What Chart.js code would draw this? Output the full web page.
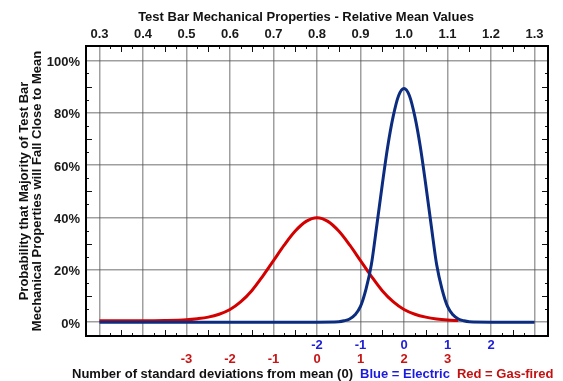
<!DOCTYPE html>
<html><head><meta charset="utf-8">
<script src="https://cdn.jsdelivr.net/npm/chart.js@4/dist/chart.umd.min.js"></script>
<style>html,body{margin:0;padding:0;background:#fff}#wrap{width:563px;height:381px}</style>
</head><body><div id="wrap"><canvas id="c" width="563" height="381"></canvas></div>
<script>
// ---- data ----
const topTicks = [0.3, 0.4, 0.5, 0.6, 0.7, 0.8, 0.9, 1.0, 1.1, 1.2, 1.3];
const yTicks = [0, 20, 40, 60, 80, 100];
const blueSdPos = [0.8, 0.9, 1.0, 1.1, 1.2];
const blueSdLabels = ['-2', '-1', '0', '1', '2'];
const redSdPos = [0.5, 0.6, 0.7, 0.8, 0.9, 1.0, 1.1];
const redSdLabels = ['-3', '-2', '-1', '0', '1', '2', '3'];

const blueX = [0.3, 0.5, 0.7, 0.8, 0.85, 0.8625, 0.875, 0.8875, 0.9, 0.9125, 0.925, 0.9375, 0.95, 0.9625, 0.975, 0.9875, 1.0,
               1.0125, 1.025, 1.0375, 1.05, 1.0625, 1.075, 1.0875, 1.1, 1.1125, 1.125, 1.1375, 1.15, 1.2, 1.3];
const blueY = [0, 0, 0, 0, 0.15, 0.5, 1.2, 2.8, 6, 12.5, 22, 37, 52.5, 67, 78.5, 86.5, 89.3,
               86.5, 78.5, 67, 52.5, 37, 22, 12.5, 6, 2.8, 1.2, 0.5, 0.15, 0, 0];

const redX = [0.3, 0.35, 0.4, 0.45, 0.5, 0.525, 0.55, 0.575, 0.6, 0.625, 0.65, 0.675, 0.7, 0.725, 0.75, 0.775, 0.8,
              0.825, 0.85, 0.875, 0.9, 0.925, 0.95, 0.975, 1.0, 1.025, 1.05, 1.075, 1.1, 1.125];
const redY = [0.5, 0.5, 0.5, 0.6, 0.9, 1.3, 1.9, 3.0, 4.8, 7.8, 12, 17.5, 23.5, 29.5, 34.8, 38.5, 39.9,
              38.5, 34.8, 29.5, 23.5, 17.5, 12, 7.8, 4.8, 3.0, 1.9, 1.2, 0.8, 0.6];

const topTitle = 'Test Bar Mechanical Properties - Relative Mean Values';
const yTitle = ['Probability that Majority of Test Bar', 'Mechanical Properties will Fall Close to Mean'];
const bottomTitle = [
  {t: 'Number of standard deviations from mean (0)', c: '#111111'},
  {t: 'Blue = Electric', c: '#1a1ae0'},
  {t: 'Red = Gas-fired', c: '#c41010'}
];

// ---- chart ----
const FONT = '"Liberation Sans", Arial, Helvetica, sans-serif';
Chart.defaults.font.family = FONT;
const XMIN = 0.269, XMAX = 1.331, YMIN = -5.3, YMAX = 105.5;
const gridColor = 'rgba(80,80,80,0.55)';
const bold13 = {size: 13, weight: 'bold', family: FONT};

const decor = {
  id: 'decor',
  afterDraw(chart) {
    const {ctx, chartArea: a, scales} = chart;
    const sx = scales.x, sy = scales.y;
    ctx.save();
    // minor inner ticks
    ctx.strokeStyle = '#111';
    ctx.lineWidth = 1;
    ctx.beginPath();
    for (let k = 0; k < topTicks.length - 1; k++) {
      for (let q = 1; q <= 3; q++) {
        const v = topTicks[k] + q * 0.025;
        const px = Math.round(sx.getPixelForValue(v)) + 0.5;
        const len = q === 2 ? 6 : 3;
        ctx.moveTo(px, a.top); ctx.lineTo(px, a.top + len);
        ctx.moveTo(px, a.bottom); ctx.lineTo(px, a.bottom - len);
      }
    }
    for (let k = 0; k < yTicks.length - 1; k++) {
      for (let q = 1; q <= 3; q++) {
        const v = yTicks[k] + q * 5;
        const py = Math.round(sy.getPixelForValue(v)) + 0.5;
        const len = q === 2 ? 6 : 3;
        ctx.moveTo(a.left, py); ctx.lineTo(a.left + len, py);
        ctx.moveTo(a.right, py); ctx.lineTo(a.right - len, py);
      }
    }
    ctx.stroke();
    // frame
    ctx.strokeStyle = '#000';
    ctx.lineWidth = 2;
    ctx.strokeRect(a.left, a.top, a.right - a.left, a.bottom - a.top);
    // top title
    ctx.font = 'bold 13px ' + FONT;
    ctx.textBaseline = 'middle';
    ctx.textAlign = 'center';
    ctx.fillStyle = '#111';
    ctx.fillText(topTitle, 306, 17);
    // bottom title (multi-colour)
    ctx.textAlign = 'left';
    let x = 72;
    const gap = 7;
    bottomTitle.forEach(seg => {
      ctx.fillStyle = seg.c;
      ctx.fillText(seg.t, x, 374);
      x += ctx.measureText(seg.t).width + gap;
    });
    ctx.restore();
  }
};

new Chart(document.getElementById('c'), {
  type: 'line',
  data: {
    datasets: [
      {
        label: 'Electric',
        data: blueX.map((x, i) => ({x, y: blueY[i]})),
        borderColor: '#0c2c80',
        borderWidth: 3,
        pointRadius: 0,
        cubicInterpolationMode: 'monotone',
        xAxisID: 'x', yAxisID: 'y'
      },
      {
        label: 'Gas-fired',
        data: redX.map((x, i) => ({x, y: redY[i]})),
        borderColor: '#d40000',
        borderWidth: 3,
        pointRadius: 0,
        cubicInterpolationMode: 'monotone',
        xAxisID: 'x', yAxisID: 'y'
      }
    ]
  },
  options: {
    responsive: false,
    animation: false,
    devicePixelRatio: 1,
    layout: {padding: {left: 0, right: 15, top: 0, bottom: 15}},
    plugins: {legend: {display: false}, tooltip: {enabled: false}},
    scales: {
      x: {
        type: 'linear', position: 'top', min: XMIN, max: XMAX,
        afterBuildTicks: s => { s.ticks = topTicks.map(v => ({value: v})); },
        afterFit: s => { s.height = 46; },
        ticks: {callback: v => Number(v).toFixed(1), font: bold13, color: '#1a1a1a', padding: 4, maxRotation: 0, autoSkip: false},
        grid: {color: gridColor, lineWidth: 1.5, drawTicks: false},
        border: {display: false},
        title: {display: false}
      },
      xb: {
        type: 'linear', position: 'bottom', min: XMIN, max: XMAX, weight: 1,
        afterBuildTicks: s => { s.ticks = blueSdPos.map(v => ({value: v})); },
        afterFit: s => { s.height = 15; },
        ticks: {callback: (v, i) => blueSdLabels[i], font: bold13, color: '#2020d8', padding: 2, maxRotation: 0, autoSkip: false},
        grid: {display: false, drawTicks: false},
        border: {display: false}
      },
      xr: {
        type: 'linear', position: 'bottom', min: XMIN, max: XMAX, weight: 2,
        afterBuildTicks: s => { s.ticks = redSdPos.map(v => ({value: v})); },
        afterFit: s => { s.height = 15; },
        ticks: {callback: (v, i) => redSdLabels[i], font: bold13, color: '#c81414', padding: 1, maxRotation: 0, autoSkip: false},
        grid: {display: false, drawTicks: false},
        border: {display: false}
      },
      y: {
        type: 'linear', position: 'left', min: YMIN, max: YMAX,
        afterBuildTicks: s => { s.ticks = yTicks.map(v => ({value: v})); },
        afterFit: s => { s.width = 86; },
        ticks: {callback: v => v + '%', font: bold13, color: '#1a1a1a', padding: 6, labelOffset: 2},
        grid: {color: gridColor, lineWidth: 1.5, drawTicks: false},
        border: {display: false},
        title: {display: true, text: yTitle, font: {size: 13, weight: 'bold', family: FONT, lineHeight: 1.0}, color: '#111', padding: {top: 18, bottom: 0}}
      }
    }
  },
  plugins: [decor]
});
</script>
</body></html>
